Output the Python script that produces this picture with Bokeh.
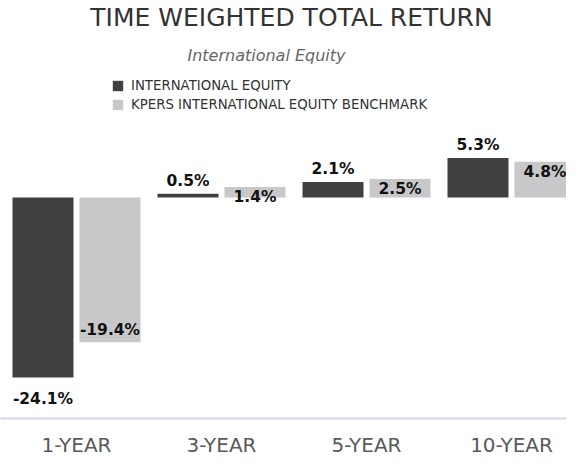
from bokeh.plotting import figure
from bokeh.models import ColumnDataSource, Range1d, FixedTicker, Label, Legend, LegendItem
from bokeh.core.properties import value
from bokeh.embed import file_html
from bokeh.resources import INLINE

# ---- data ----
periods = ["1-YEAR", "3-YEAR", "5-YEAR", "10-YEAR"]
intl_equity = [-24.1, 0.5, 2.1, 5.3]
benchmark = [-19.4, 1.4, 2.5, 4.8]
series_names = ["INTERNATIONAL EQUITY", "KPERS INTERNATIONAL EQUITY BENCHMARK"]
title_text = "TIME WEIGHTED TOTAL RETURN"
subtitle_text = "International Equity"

# ---- layout / style ----
W, H = 566, 459
GROUP_PX = 145
BAR_PX = 61
BAR_OFF_PX = 33.5
PX_PER_PCT = 7.5
ZERO_PX = 198
BOTTOM_BORDER = 39
FRAME_H = H - BOTTOM_BORDER
FIRST_CENTER_PX = 76
DARK = "#404042"
LIGHT = "#c8c8ca"
FONT = "DejaVu Sans"

pos = list(range(1, len(periods) + 1))
x0 = pos[0] - FIRST_CENTER_PX / GROUP_PX
x1 = x0 + W / GROUP_PX
y_top = ZERO_PX / PX_PER_PCT
y_bot = -(FRAME_H - ZERO_PX) / PX_PER_PCT


def fx(px):
    return x0 + px / GROUP_PX


def fy(py):
    return (ZERO_PX - py) / PX_PER_PCT


off = BAR_OFF_PX / GROUP_PX
bw = BAR_PX / GROUP_PX

src = ColumnDataSource(dict(
    x_i=[p - off for p in pos],
    x_b=[p + off for p in pos],
    intl=intl_equity,
    bench=benchmark,
    lab_i=[f"{v:.1f}%" for v in intl_equity],
    lab_b=[f"{v:.1f}%" for v in benchmark],
    off_i=[-13 if v >= 0 else 22 for v in intl_equity],
    off_b=[10 if v >= 0 else -12 for v in benchmark],
))

p = figure(width=W, height=H, output_backend="svg", toolbar_location=None,
           x_range=Range1d(x0, x1), y_range=Range1d(y_bot, y_top),
           min_border_left=0, min_border_right=0, min_border_top=0,
           min_border_bottom=BOTTOM_BORDER, outline_line_color=None,
           y_axis_location=None)
p.grid.visible = False
p.background_fill_color = "white"
p.border_fill_color = "white"

r_i = p.vbar(x="x_i", top="intl", bottom=0, width=bw, source=src,
             fill_color=DARK, line_color=None)
r_b = p.vbar(x="x_b", top="bench", bottom=0, width=bw, source=src,
             fill_color=LIGHT, line_color=None)

common = dict(text_align="center", text_baseline="middle", text_font=value(FONT),
              text_font_style="bold", text_font_size="15.5px", text_color="#111111",
              source=src)
p.text(x="x_i", y="intl", text="lab_i", y_offset="off_i", **common)
p.text(x="x_b", y="bench", text="lab_b", y_offset="off_b", **common)

# titles
p.add_layout(Label(x=fx(291), y=fy(17), text=title_text, text_align="center",
                   text_baseline="middle", text_font=FONT, text_font_size="25px",
                   text_color="#333333"))
p.add_layout(Label(x=fx(266), y=fy(55), text=subtitle_text, text_align="center",
                   text_baseline="middle", text_font=FONT, text_font_style="italic",
                   text_font_size="16px", text_color="#666666"))

legend = Legend(items=[LegendItem(label=series_names[0], renderers=[r_i]),
                       LegendItem(label=series_names[1], renderers=[r_b])],
                location=(111, FRAME_H - 114), orientation="vertical",
                padding=0, margin=0, spacing=4, glyph_width=13, glyph_height=13,
                label_height=13, label_standoff=7, label_text_font=FONT,
                label_text_font_size="13.3px", label_text_color="#333333",
                background_fill_alpha=0, border_line_color=None)
p.add_layout(legend)

ax = p.xaxis[0]
ax.ticker = FixedTicker(ticks=pos)
ax.major_label_overrides = {k: v for k, v in zip(pos, periods)}
ax.axis_line_color = "#d0d8e8"
ax.axis_line_width = 2
ax.major_tick_line_color = None
ax.minor_tick_line_color = None
ax.major_tick_out = 0
ax.major_tick_in = 0
ax.major_label_standoff = 14
ax.major_label_text_font = FONT
ax.major_label_text_font_size = "20px"
ax.major_label_text_color = "#595959"

open("out.html", "w").write(file_html(p, INLINE))
